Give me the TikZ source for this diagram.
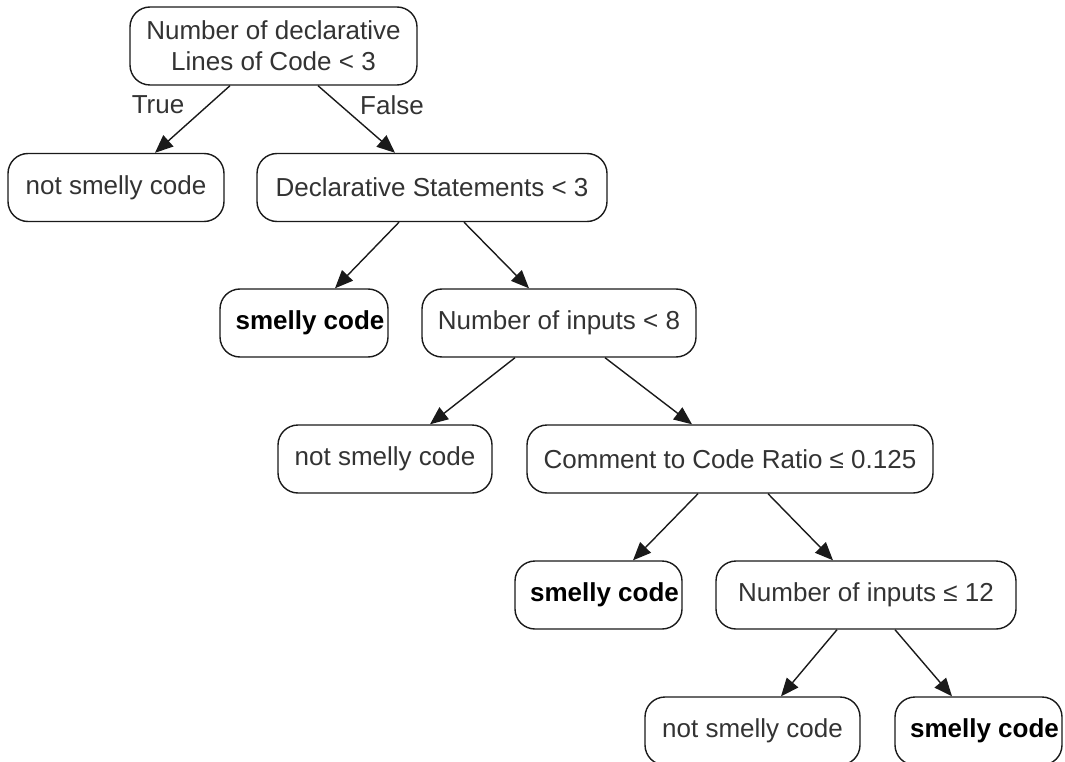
\documentclass[tikz,border=0pt]{standalone}
\usepackage{fontspec}
\setmainfont{Liberation Sans}
\usetikzlibrary{arrows.meta,calc}
\definecolor{ink}{HTML}{333333}
\definecolor{edge}{HTML}{1A1A1A}
\begin{document}
\begin{tikzpicture}[x=1pt,y=-1pt,
  box/.style={draw=edge,line width=1.4pt,rounded corners=20pt,fill=white,
    inner sep=0pt,align=center,text=ink,font=\fontsize{26}{31}\selectfont,
    minimum height=68pt},
  leaf/.style={box,text=black,font=\fontsize{26}{31}\selectfont\bfseries},
  link/.style={draw=edge,line width=1.4pt,-{Triangle[length=18pt,width=15pt]}},
  tag/.style={text=ink,font=\fontsize{26}{31}\selectfont,inner sep=0pt}]
  \useasboundingbox (0,0) rectangle (1065,762);

  % decision and leaf nodes
  \node[box,minimum width=287pt,minimum height=78pt] (root) at (273.5,46)
    {Number of declarative\\Lines of Code < 3};
  \node[box,minimum width=216pt] (ns1)  at (116,187.5) {not smelly code};
  \node[box,minimum width=350pt] (decl) at (432,187.5) {Declarative Statements < 3};
  \node[leaf,minimum width=168pt] (s1)  at (304,323) {\hspace*{12pt}smelly code};
  \node[box,minimum width=274pt] (ni8)  at (559,323) {Number of inputs < 8};
  \node[box,minimum width=214pt] (ns2)  at (385,459) {not smelly code};
  \node[box,minimum width=406pt] (ccr)  at (730,459) {Comment to Code Ratio ≤ 0.125};
  \node[leaf,minimum width=167pt] (s2)  at (598.5,595) {\hspace*{12pt}smelly code};
  \node[box,minimum width=300pt] (ni12) at (866,595) {Number of inputs ≤ 12};
  \node[box,minimum width=215pt] (ns3)  at (752.5,731) {not smelly code};
  \node[leaf,minimum width=167pt] (s3)  at (978.5,731) {\hspace*{12pt}smelly code};

  % branch labels
  \node[tag] (t) at (158,105) {True};
  \node[tag] (f) at (392,105) {False};

  % branches
  \draw[link] ($(root.south)+(-43.5,0)$) -- ($(ns1.north)+(39,0)$);
  \draw[link] ($(root.south)+(44.5,0)$)  -- ($(decl.north)+(-37,0)$);
  \draw[link] ($(decl.south)+(-33,0)$)   -- ($(s1.north)+(31,0)$);
  \draw[link] ($(decl.south)+(32,0)$)    -- ($(ni8.north)+(-30,0)$);
  \draw[link] ($(ni8.south)+(-44,0)$)    -- ($(ns2.north)+(45,0)$);
  \draw[link] ($(ni8.south)+(46,0)$)     -- ($(ccr.north)+(-38,0)$);
  \draw[link] ($(ccr.south)+(-32,0)$)    -- ($(s2.north)+(34.5,0)$);
  \draw[link] ($(ccr.south)+(38,0)$)     -- ($(ni12.north)+(-33,0)$);
  \draw[link] ($(ni12.south)+(-29,0)$)   -- ($(ns3.north)+(28.5,0)$);
  \draw[link] ($(ni12.south)+(29,0)$)    -- ($(s3.north)+(-26.5,0)$);
\end{tikzpicture}
\end{document}
